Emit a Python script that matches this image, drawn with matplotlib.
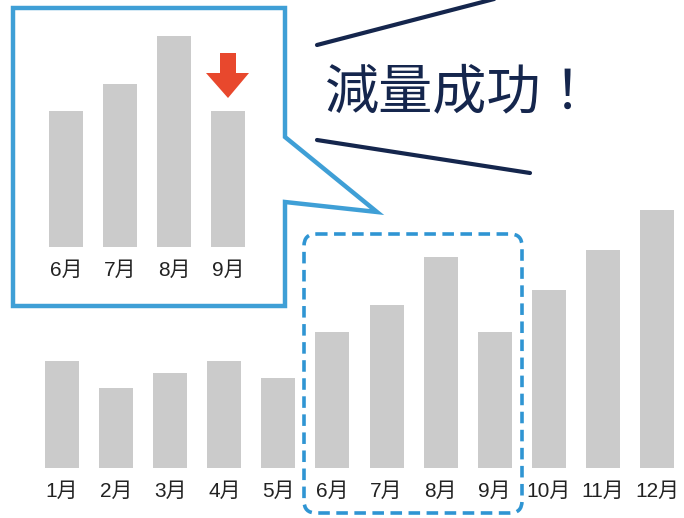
import matplotlib.pyplot as plt
from matplotlib.patches import Polygon, FancyBboxPatch

plt.rcParams['font.family'] = ['Noto Sans CJK JP', 'DejaVu Sans']

# monthly amounts (all months)
months = ['1月', '2月', '3月', '4月', '5月', '6月', '7月', '8月', '9月', '10月', '11月', '12月']
amounts = [107, 80, 95, 107, 90, 136, 163, 211, 136, 178, 218, 258]

# close-up months
zoomMonths = ['6月', '7月', '8月', '9月']
zoomAmounts = [136, 163, 211, 136]

title = '減量成功！'

barColor = '#cbcbcb'
labelColor = '#222222'
blue = '#3f9fd6'
navy = '#15264d'
red = '#e8482d'

# digits in a Helvetica-like face, 月 falls back to the CJK font
labelFont = ['Liberation Sans', 'Noto Sans CJK JP']

W, H = 684, 518
fig = plt.figure(figsize=(W / 100, H / 100), dpi=100)


def pix(x0, y0, x1, y1) :
	# pixel box (top-left origin) -> figure fraction rect
	return [x0 / W, 1 - y1 / H, (x1 - x0) / W, (y1 - y0) / H]


def barPanel(ax, labels, values, top) :
	ax.bar(range(len(values)), values, width=0.63, color=barColor)
	ax.set_xlim(-0.5, len(values) - 0.5)
	ax.set_ylim(0, top)
	ax.set_xticks(range(len(values)))
	ax.set_xticklabels(labels, fontsize=15, color=labelColor, family=labelFont)
	ax.tick_params(axis='x', length=0, pad=10)
	ax.set_yticks([])
	for s in ax.spines.values() :
		s.set_visible(False)
	ax.patch.set_alpha(0)


# full year, 1 unit == 1 px
axMain = fig.add_axes(pix(35, 0, 684, 468), zorder=0)
barPanel(axMain, months, amounts, 468)

# close-up inside the speech bubble
axZoom = fig.add_axes(pix(39, 0, 255, 247), zorder=2)
barPanel(axZoom, zoomMonths, zoomAmounts, 247)

# overlay in pixel coordinates for shapes and the headline
ov = fig.add_axes([0, 0, 1, 1], zorder=3)
ov.set_xlim(0, W)
ov.set_ylim(H, 0)
ov.axis('off')
ov.patch.set_alpha(0)

bubble = [(13, 8), (285, 8), (285, 137), (377, 212), (285, 202), (285, 306), (13, 306)]
ov.add_patch(Polygon(bubble, closed=True, fill=False, edgecolor=blue,
	linewidth=3.2, joinstyle='miter'))

ov.add_patch(FancyBboxPatch((304, 234), 218, 279,
	boxstyle='round,pad=0,rounding_size=12', fill=False,
	edgecolor='#2f95d3', linewidth=2.6, linestyle=(0, (3.2, 1.8))))

# down arrow over 9月
arrow = [(220, 53), (236, 53), (236, 73), (249, 73), (228, 98), (206, 73), (220, 73)]
ov.add_patch(Polygon(arrow, closed=True, facecolor=red, edgecolor='none'))

ov.plot([317, 498], [45, -2], color=navy, linewidth=3, solid_capstyle='round')
ov.plot([317, 530], [140, 173], color=navy, linewidth=3, solid_capstyle='round')

ov.text(325, 93, title, fontsize=39, color=navy, ha='left', va='center',
	fontweight='normal')

fig.savefig('out.png', dpi=100)
